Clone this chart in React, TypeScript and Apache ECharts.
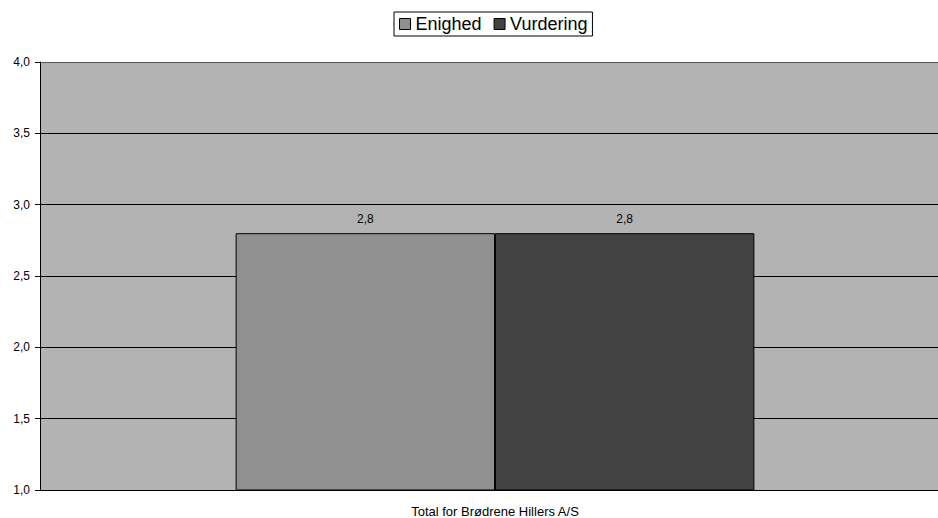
import React, { useEffect, useRef } from "react";
import * as echarts from "echarts";

const categories = ["Total for Brødrene Hillers A/S"];
const enighed = [2.8];
const vurdering = [2.8];
const seriesNames = ["Enighed", "Vurdering"];

const fmt = (v: number) => v.toFixed(1).replace(".", ",");

export default function App() {
  const ref = useRef<HTMLDivElement>(null);

  useEffect(() => {
    document.body.style.margin = "0";
    if (!ref.current) return;
    const chart = echarts.init(ref.current, undefined, { renderer: "svg" });
    const font = "Arial, 'Liberation Sans', sans-serif";
    const valueLabel = {
      show: true,
      position: "top",
      distance: 8,
      color: "#000",
      fontSize: 12,
      fontFamily: font,
      formatter: (p: any) => fmt(p.value),
    };
    chart.setOption({
      animation: false,
      backgroundColor: "#ffffff",
      textStyle: { fontFamily: font },
      legend: {
        top: 12,
        left: 394,
        data: seriesNames,
        icon: "rect",
        itemWidth: 11,
        itemHeight: 11,
        itemGap: 12,
        padding: [3, 5, 3, 5],
        borderColor: "#000",
        borderWidth: 1,
        backgroundColor: "#fff",
        itemStyle: { borderColor: "#000", borderWidth: 1 },
        textStyle: { fontSize: 18, color: "#000", fontFamily: font },
      },
      // the plot area runs past the visible right edge
      grid: {
        left: 40,
        right: 0,
        top: 62,
        bottom: 28,
        show: true,
        backgroundColor: "#b3b3b3",
        borderWidth: 0,
      },
      xAxis: {
        type: "category",
        data: categories,
        axisLine: { show: true, lineStyle: { color: "#000", width: 1 } },
        axisTick: { show: false },
        axisLabel: { color: "#000", fontSize: 13, margin: 15, fontFamily: font },
      },
      yAxis: {
        type: "value",
        min: 1,
        max: 4,
        interval: 0.5,
        axisLine: { show: true, lineStyle: { color: "#000", width: 1 } },
        axisTick: { show: true, length: 5, lineStyle: { color: "#000" } },
        axisLabel: {
          color: "#000",
          fontSize: 12,
          margin: 10,
          fontFamily: font,
          formatter: (v: number) => fmt(v),
        },
        splitLine: {
          show: true,
          lineStyle: {
            color: ["#000", "#000", "#000", "#000", "#000", "#000", "#555"],
            width: 1,
          },
        },
      },
      series: [
        {
          name: seriesNames[0],
          type: "bar",
          data: enighed,
          barGap: "0%",
          barCategoryGap: "43%",
          itemStyle: { color: "#909090", borderColor: "#000", borderWidth: 1 },
          label: valueLabel,
        },
        {
          name: seriesNames[1],
          type: "bar",
          data: vurdering,
          barGap: "0%",
          barCategoryGap: "43%",
          itemStyle: { color: "#434343", borderColor: "#000", borderWidth: 1 },
          label: valueLabel,
        },
      ],
    });
    return () => chart.dispose();
  }, []);

  return (
    <div style={{ width: 938, height: 518, overflow: "hidden" }}>
      <div ref={ref} style={{ width: 950, height: 518 }} />
    </div>
  );
}
